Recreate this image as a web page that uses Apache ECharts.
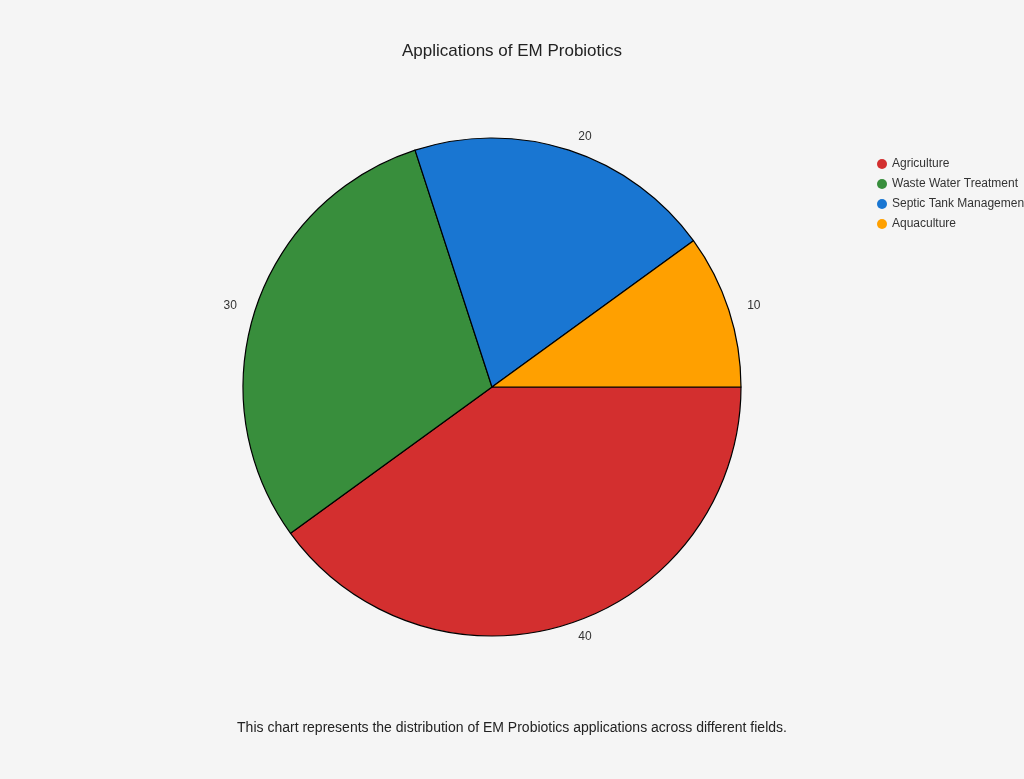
<!DOCTYPE html>
<html><head><meta charset="utf-8">
<script src="https://cdn.jsdelivr.net/npm/echarts@6/dist/echarts.min.js"></script>
<style>html,body{margin:0;background:#f5f5f5;}#c{width:1024px;height:779px;}</style>
</head><body><div id="c"></div>
<script>
const categories = ['Agriculture','Waste Water Treatment','Septic Tank Management','Aquaculture'];
const values = [40,30,20,10];
const colors = ['#d32f2f','#388e3c','#1976d2','#ffa000'];
const chart = echarts.init(document.getElementById('c'));
chart.setOption({
  backgroundColor:'#f5f5f5',
  title:[{text:'Applications of EM Probiotics',left:'center',top:38,textStyle:{fontFamily:'Arial, Liberation Sans',fontSize:17,fontWeight:'normal',color:'#222'}},
         {text:'This chart represents the distribution of EM Probiotics applications across different fields.',left:'center',top:716,textStyle:{fontFamily:'Arial, Liberation Sans',fontSize:14,fontWeight:'normal',color:'#222'}}],
  legend:{orient:'vertical',left:872,top:153,icon:'circle',itemWidth:10,itemHeight:10,itemGap:8,itemStyle:{borderWidth:0},textStyle:{fontFamily:'Arial, Liberation Sans',fontSize:12,color:'#333'},data:categories},
  series:[{type:'pie',center:[492,387],radius:249,startAngle:0,clockwise:true,
    data:categories.map((n,i)=>({name:n,value:values[i],itemStyle:{color:colors[i]}})),
    itemStyle:{borderColor:'#000',borderWidth:1.2},
    label:{show:true,position:'outside',formatter:'{c}',fontFamily:'Arial, Liberation Sans',fontSize:12,color:'#333'},
    labelLine:{show:false,length:14,length2:0},
    emphasis:{disabled:true}}]
});
</script></body></html>
